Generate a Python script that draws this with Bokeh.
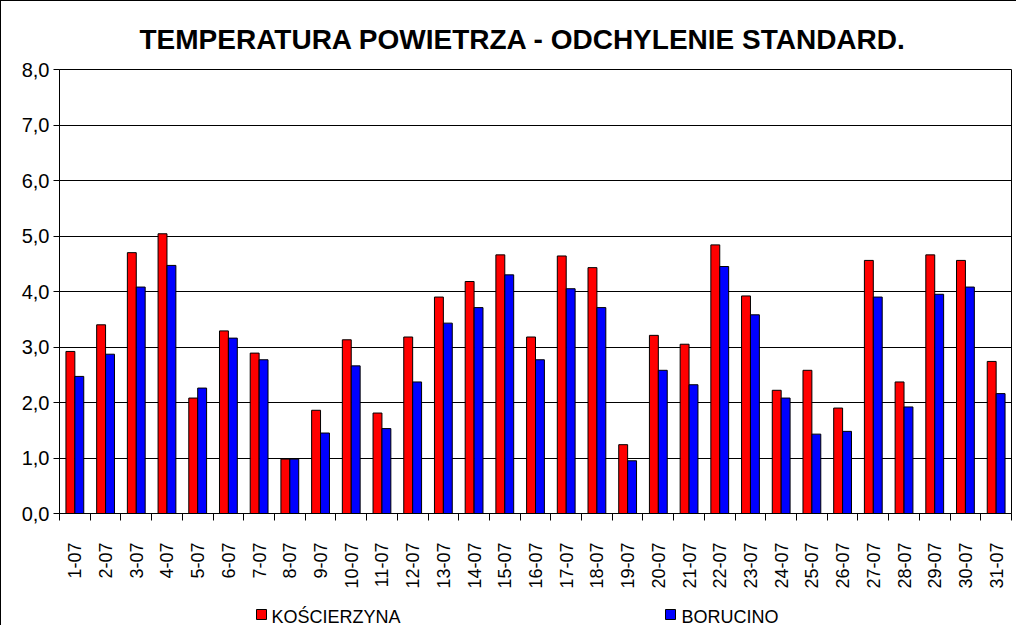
import math
from bokeh.plotting import figure
from bokeh.layouts import column
from bokeh.core.properties import value
from bokeh.models import ColumnDataSource, Range1d, FixedTicker
from bokeh.transform import dodge
from bokeh.embed import file_html
from bokeh.resources import INLINE

# ---- data ----
days = ["1-07", "2-07", "3-07", "4-07", "5-07", "6-07", "7-07", "8-07", "9-07", "10-07",
        "11-07", "12-07", "13-07", "14-07", "15-07", "16-07", "17-07", "18-07", "19-07", "20-07",
        "21-07", "22-07", "23-07", "24-07", "25-07", "26-07", "27-07", "28-07", "29-07", "30-07",
        "31-07"]
koscierzyna = [2.92, 3.40, 4.70, 5.04, 2.08, 3.29, 2.89, 0.98, 1.86, 3.13,
               1.81, 3.18, 3.90, 4.18, 4.66, 3.18, 4.64, 4.43, 1.24, 3.21,
               3.05, 4.84, 3.92, 2.22, 2.58, 1.90, 4.56, 2.37, 4.66, 4.56,
               2.74]
borucino = [2.47, 2.87, 4.08, 4.47, 2.26, 3.16, 2.77, 0.98, 1.45, 2.66,
            1.53, 2.37, 3.43, 3.71, 4.30, 2.77, 4.05, 3.71, 0.95, 2.58,
            2.32, 4.45, 3.58, 2.08, 1.43, 1.48, 3.90, 1.92, 3.95, 4.08,
            2.16]
y_ticks = [0, 1, 2, 3, 4, 5, 6, 7, 8]
y_tick_labels = ["0,0", "1,0", "2,0", "3,0", "4,0", "5,0", "6,0", "7,0", "8,0"]
series_names = ["KOŚCIERZYNA", "BORUCINO"]
series_colors = ["#FF0000", "#0000FF"]
title_text = "TEMPERATURA POWIETRZA - ODCHYLENIE STANDARD."

FONT = "Liberation Sans"
W = 1015
H_CHART = 600
H_LEGEND = 24
BORDER_L = 58
BORDER_R = 5

n = len(days)
centers = [i + 0.5 for i in range(n)]
boundaries = [float(i) for i in range(n + 1)]

source = ColumnDataSource(data=dict(x=centers, k=koscierzyna, b=borucino, day=days))

p = figure(width=W, height=H_CHART,
           x_range=Range1d(0, n), y_range=Range1d(y_ticks[0], y_ticks[-1]),
           output_backend="svg", toolbar_location=None,
           min_border_left=BORDER_L, min_border_right=BORDER_R, min_border_top=68,
           min_border_bottom=88)

p.background_fill_color = "white"
p.border_fill_color = "white"
p.outline_line_color = "black"
p.outline_line_width = 1

# title
p.title.text = title_text
p.title.text_font = FONT
p.title.text_font_size = "28px"
p.title.text_font_style = "bold"
p.title.text_color = "black"
p.title.align = "left"
p.title.offset = 80
p.title.standoff = 29

p.vbar(x=dodge("x", -0.145, range=p.x_range), top="k", width=0.29, bottom=0,
       source=source, fill_color=series_colors[0], line_color="black", line_width=1)
p.vbar(x=dodge("x", 0.145, range=p.x_range), top="b", width=0.29, bottom=0,
       source=source, fill_color=series_colors[1], line_color="black", line_width=1)

# x axis
xa = p.xaxis[0]
xa.ticker = FixedTicker(ticks=centers, minor_ticks=boundaries)
xa.major_label_overrides = {c: d for c, d in zip(centers, days)}
xa.major_label_orientation = math.pi / 2
xa.major_tick_out = 0
xa.major_tick_in = 0
xa.minor_tick_out = 7
xa.minor_tick_in = 0
xa.minor_tick_line_color = "black"
xa.axis_line_color = "black"
xa.major_label_text_font = FONT
xa.major_label_text_font_size = "18px"
xa.major_label_text_color = "black"
xa.major_label_standoff = 22

# y axis
ya = p.yaxis[0]
ya.ticker = FixedTicker(ticks=y_ticks, minor_ticks=[])
ya.major_label_overrides = {t: l for t, l in zip(y_ticks, y_tick_labels)}
ya.major_tick_out = 6
ya.major_tick_in = 0
ya.minor_tick_out = 0
ya.minor_tick_in = 0
ya.major_tick_line_color = "black"
ya.axis_line_color = "black"
ya.major_label_text_font = FONT
ya.major_label_text_font_size = "20px"
ya.major_label_text_color = "black"
ya.major_label_standoff = 4

p.xgrid.visible = False
p.ygrid.ticker = FixedTicker(ticks=y_ticks)
p.ygrid.grid_line_color = "black"
p.ygrid.grid_line_width = 1

# ---- legend strip (small figure below the chart, pixel coordinates) ----
# the column aligns this strip's frame with the chart's frame, so its x range
# is expressed in the chart's pixel columns
lg = figure(width=W, height=H_LEGEND,
            x_range=Range1d(BORDER_L, W - BORDER_R), y_range=Range1d(0, H_LEGEND),
            output_backend="svg", toolbar_location=None,
            x_axis_location=None, y_axis_location=None,
            min_border=0, min_border_left=0, min_border_right=0,
            min_border_top=0, min_border_bottom=0)
lg.grid.visible = False
lg.outline_line_color = None
lg.background_fill_color = "white"
lg.border_fill_color = "white"

legend_key_x = [260, 669]      # legend layout (pixels)
legend_text_x = [270, 680]
legend_key_y = 11
legend_text_y = 9

lg.rect(x=legend_key_x, y=[legend_key_y] * 2, width=10, height=10,
        fill_color=series_colors, line_color="black", line_width=1)
lg.text(x=legend_text_x, y=[legend_text_y] * 2, text=series_names,
        text_font=value(FONT), text_font_size="18px", text_color="black",
        text_align="left", text_baseline="middle")

layout = column(p, lg, spacing=0,
                styles={"border-left": "1px solid #000", "border-top": "1px solid #000"})

open("out.html", "w").write(file_html(layout, INLINE))
